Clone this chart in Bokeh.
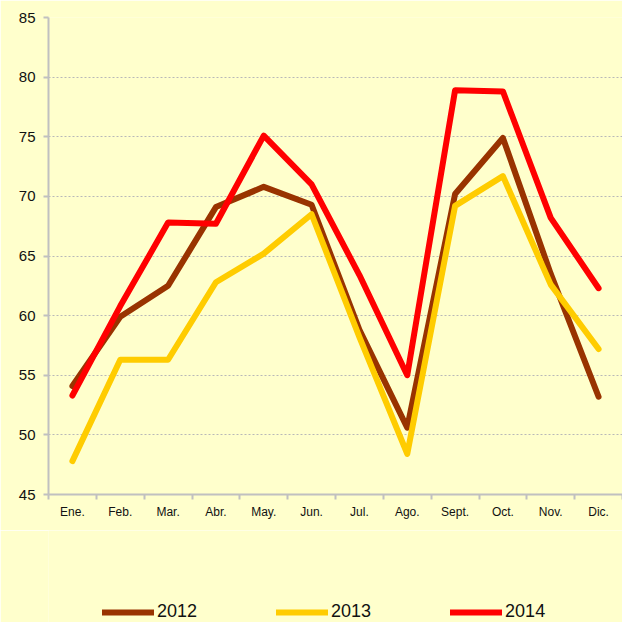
import numpy as np
from bokeh.plotting import figure
from bokeh.models import FixedTicker, Legend, LegendItem, Range1d
from bokeh.layouts import column
from bokeh.embed import file_html
from bokeh.resources import INLINE

months = ["Ene.", "Feb.", "Mar.", "Abr.", "May.", "Jun.", "Jul.", "Ago.", "Sept.", "Oct.", "Nov.", "Dic."]
v2012 = [54.1, 59.9, 62.5, 69.1, 70.8, 69.3, 58.8, 50.6, 70.2, 74.9, 63.5, 53.2]
v2013 = [47.8, 56.3, 56.3, 62.8, 65.2, 68.5, 58.2, 48.4, 69.2, 71.7, 62.6, 57.2]
v2014 = [53.3, 60.8, 67.8, 67.7, 75.1, 71.0, 63.4, 55.0, 78.9, 78.8, 68.2, 62.3]
years = ["2012", "2013", "2014"]
colors = ["#993300", "#FFCC00", "#FF0000"]
y_ticks = [45, 50, 55, 60, 65, 70, 75, 80, 85]

xs = [i + 0.5 for i in range(len(months))]
series = [v2012, v2013, v2014]
BG = "#FFFFCC"

p = figure(width=622, height=530, output_backend="svg", toolbar_location=None,
           x_range=Range1d(0, 12), y_range=Range1d(45, 85),
           min_border_left=48, min_border_right=0, min_border_top=17, min_border_bottom=36,
           background_fill_color=BG, border_fill_color=BG)
p.outline_line_color = None

for vals, c in zip(series, colors):
    p.line(xs, vals, line_color=c, line_width=6, line_cap="round", line_join="round")

# x axis
p.xaxis.ticker = FixedTicker(ticks=xs, minor_ticks=list(range(13)))
p.xaxis.major_label_overrides = {x: m for x, m in zip(xs, months)}
p.xaxis.major_tick_line_alpha = 0
p.xaxis.major_tick_out = 6
p.xaxis.minor_tick_out = 5
p.xaxis.minor_tick_in = 0
p.xaxis.minor_tick_line_color = "#C0C0C0"
p.xaxis.minor_tick_line_width = 2
p.xaxis.axis_line_color = "#C0C0C0"
p.xaxis.axis_line_width = 2
p.xaxis.major_label_text_font = "Liberation Sans"
p.xaxis.major_label_text_font_size = "12px"
p.xaxis.major_label_text_color = "#111111"
p.xaxis.major_label_standoff = 4

# y axis
p.yaxis.ticker = FixedTicker(ticks=y_ticks)
p.yaxis.minor_tick_line_color = None
p.yaxis.major_tick_out = 5
p.yaxis.major_tick_in = 0
p.yaxis.major_tick_line_color = "#C0C0C0"
p.yaxis.major_tick_line_width = 2
p.yaxis.axis_line_color = "#C0C0C0"
p.yaxis.axis_line_width = 2
p.yaxis.major_label_text_font = "Liberation Sans"
p.yaxis.major_label_text_font_size = "15px"
p.yaxis.major_label_text_color = "#111111"
p.yaxis.major_label_standoff = 8

p.xgrid.grid_line_color = None
p.ygrid.ticker = FixedTicker(ticks=y_ticks)
p.ygrid.grid_line_color = "#B8B8B8"
p.ygrid.grid_line_dash = "2 2"
p.ygrid.grid_line_width = 1

# legend strip (same series, drawn off-range so only the legend keys show)
p2 = figure(width=622, height=92, output_backend="svg", toolbar_location=None,
            x_range=Range1d(0, 12), y_range=Range1d(0, 1),
            min_border_left=0, min_border_right=0, min_border_top=0, min_border_bottom=0,
            background_fill_color=BG, border_fill_color=BG)
p2.outline_line_color = None
p2.axis.visible = False
p2.grid.visible = False
keys = [p2.line(xs, vals, line_color=c, line_width=6, line_cap="round")
        for vals, c in zip(series, colors)]

legend = Legend(items=[LegendItem(label=y, renderers=[r]) for y, r in zip(years, keys)],
                orientation="horizontal", location=(54, 0))
legend.glyph_width = 52
legend.glyph_height = 20
legend.label_standoff = 3
legend.label_width = 40
legend.spacing = 79
legend.padding = 0
legend.margin = 0
legend.border_line_color = None
legend.background_fill_alpha = 0
legend.label_text_font = "Liberation Sans"
legend.label_text_font_size = "18px"
legend.label_text_color = "#111111"
p2.add_layout(legend, "center")

layout = column(p, p2, spacing=0)
open("out.html", "w").write(file_html(layout, INLINE))
